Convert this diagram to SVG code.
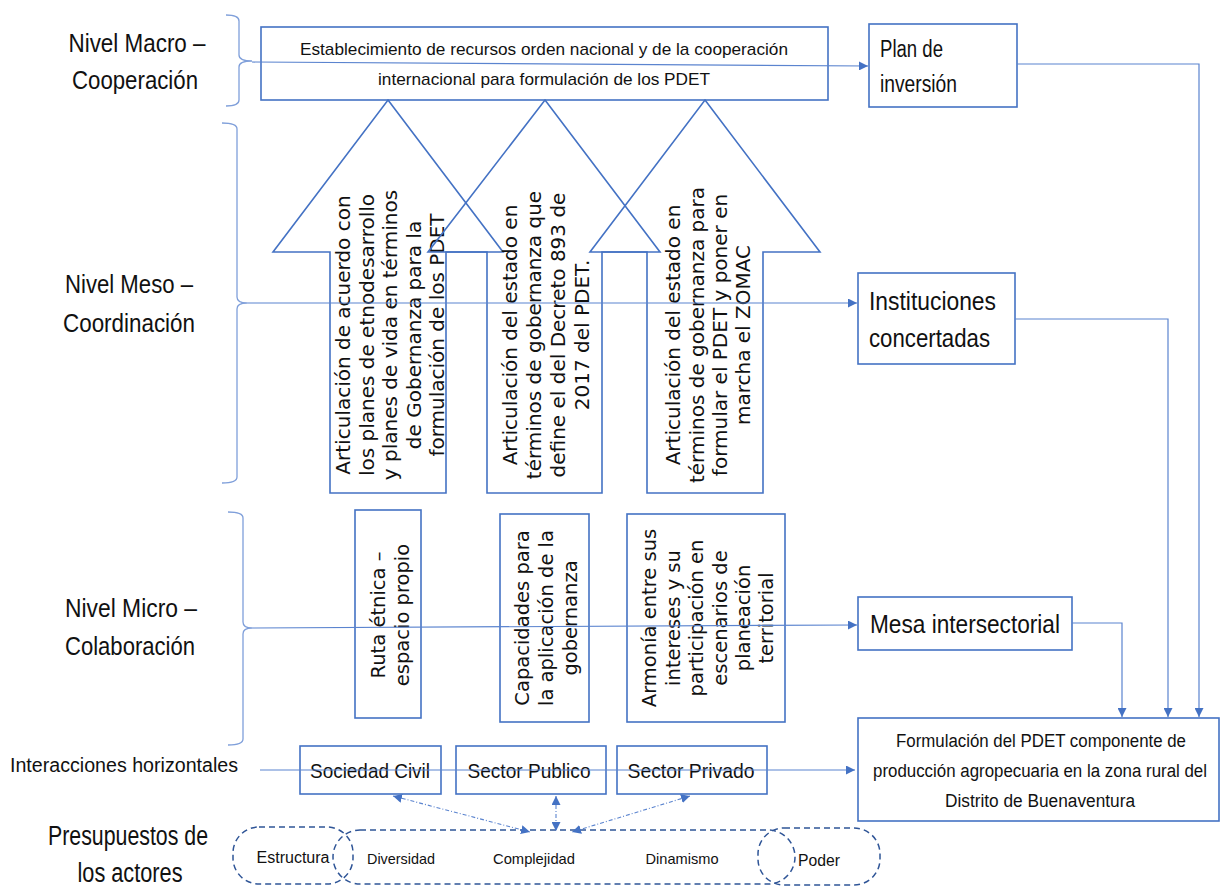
<svg xmlns="http://www.w3.org/2000/svg" width="1221" height="886" viewBox="0 0 1221 886">
<defs>
<style>
.box{fill:none;stroke:#4472C4;stroke-width:1.6}
.arr{fill:none;stroke:#4472C4;stroke-width:1.6;stroke-linejoin:miter}
.brace{fill:none;stroke:#7F9FDA;stroke-width:1.3}
.con{fill:none;stroke:#5B84CF;stroke-width:1.2}
.dd{fill:none;stroke:#5B84CF;stroke-width:1.1;stroke-dasharray:4 2 1 2}
.dash{fill:none;stroke:#2F5597;stroke-width:1.5;stroke-dasharray:6 4}
.t{font-family:"Liberation Sans",Arial,sans-serif;fill:#111}
.g{font-family:"DejaVu Sans","Liberation Sans",sans-serif;fill:#111;font-size:20px}
.gm{font-family:"DejaVu Sans","Liberation Sans",sans-serif;fill:#111;font-size:19.5px}
</style>
<marker id="ah" viewBox="0 0 10 10" refX="10" refY="5" markerWidth="9" markerHeight="9" markerUnits="userSpaceOnUse" orient="auto-start-reverse"><path d="M0,0 L10,5 L0,10 z" fill="#4472C4"/></marker>
</defs>

<g id="labels">
<text class="t" x="137" y="52" font-size="26" text-anchor="middle" textLength="137" lengthAdjust="spacingAndGlyphs">Nivel Macro –</text>
<text class="t" x="135" y="89" font-size="26" text-anchor="middle" textLength="126" lengthAdjust="spacingAndGlyphs">Cooperación</text>
<text class="t" x="129" y="293" font-size="26" text-anchor="middle" textLength="128" lengthAdjust="spacingAndGlyphs">Nivel Meso –</text>
<text class="t" x="129" y="332" font-size="26" text-anchor="middle" textLength="132" lengthAdjust="spacingAndGlyphs">Coordinación</text>
<text class="t" x="131" y="617" font-size="26" text-anchor="middle" textLength="132" lengthAdjust="spacingAndGlyphs">Nivel Micro –</text>
<text class="t" x="130" y="655" font-size="26" text-anchor="middle" textLength="130" lengthAdjust="spacingAndGlyphs">Colaboración</text>
<text class="t" x="10" y="772" font-size="20" textLength="228" lengthAdjust="spacingAndGlyphs">Interacciones horizontales</text>
<text class="t" x="128" y="845" font-size="27" text-anchor="middle" textLength="160" lengthAdjust="spacingAndGlyphs">Presupuestos de</text>
<text class="t" x="130" y="882" font-size="27" text-anchor="middle" textLength="105" lengthAdjust="spacingAndGlyphs">los actores</text>
</g>

<g id="braces">
<path class="brace" d="M226,15 Q239,15 239,21 L239,55 Q239,61 252,61 Q239,61 239,67 L239,100 Q239,106 226,106"/>
<path class="brace" d="M222,123 Q237,123 237,129 L237,297 Q237,303 247,303 Q237,303 237,309 L237,477 Q237,483 222,483"/>
<path class="brace" d="M228,512 Q243,512 243,518 L243,622 Q243,628 252,628 Q243,628 243,634 L243,739 Q243,745 228,745"/>
</g>

<g id="node-recursos">
<rect class="box" x="261" y="27" width="567" height="73"/>
<text class="t" x="544" y="55" font-size="17" text-anchor="middle" textLength="488" lengthAdjust="spacingAndGlyphs">Establecimiento de recursos orden nacional y de la cooperación</text>
<text class="t" x="544" y="85" font-size="17" text-anchor="middle" textLength="332" lengthAdjust="spacingAndGlyphs">internacional para formulación de los PDET</text>
</g>

<g id="node-plan">
<rect class="box" x="869" y="24" width="148" height="83"/>
<text class="t" x="880" y="57" font-size="23" textLength="63" lengthAdjust="spacingAndGlyphs">Plan de</text>
<text class="t" x="880" y="92" font-size="23" textLength="77" lengthAdjust="spacingAndGlyphs">inversión</text>
</g>

<g id="node-arrow1">
<polygon class="arr" points="388,100 503,252 446,252 446,493 330,493 330,252 273,252"/>
<g class="g" text-anchor="middle">
<text transform="translate(343,335) rotate(-90)" dy="0.36em">Articulación de acuerdo con</text>
<text transform="translate(367,335) rotate(-90)" dy="0.36em">los planes de etnodesarrollo</text>
<text transform="translate(390,335) rotate(-90)" dy="0.36em">y planes de vida en términos</text>
<text transform="translate(414,335) rotate(-90)" dy="0.36em">de Gobernanza  para la</text>
<text transform="translate(437,335) rotate(-90)" dy="0.36em">formulación de los PDET</text>
</g>
</g>

<g id="node-arrow2">
<polygon class="arr" points="545,100 660,252 602,252 602,493 487,493 487,252 428,252"/>
<g class="g" text-anchor="middle">
<text transform="translate(510,335) rotate(-90)" dy="0.36em">Articulación del estado en</text>
<text transform="translate(534,335) rotate(-90)" dy="0.36em">términos de gobernanza que</text>
<text transform="translate(558,335) rotate(-90)" dy="0.36em">define el del  Decreto 893 de</text>
<text transform="translate(582,335) rotate(-90)" dy="0.36em">2017 del PDET.</text>
</g>
</g>

<g id="node-arrow3">
<polygon class="arr" points="705,100 820,252 763,252 763,493 647,493 647,252 590,252"/>
<g class="g" text-anchor="middle">
<text transform="translate(673,335) rotate(-90)" dy="0.36em">Articulación del estado en</text>
<text transform="translate(697,335) rotate(-90)" dy="0.36em">términos de gobernanza para</text>
<text transform="translate(720,335) rotate(-90)" dy="0.36em">formular el PDET y poner en</text>
<text transform="translate(743,335) rotate(-90)" dy="0.36em">marcha el ZOMAC</text>
</g>
</g>

<g id="node-instituciones">
<rect class="box" x="858" y="273" width="157" height="91"/>
<text class="t" x="869" y="310" font-size="26" textLength="127" lengthAdjust="spacingAndGlyphs">Instituciones</text>
<text class="t" x="869" y="347" font-size="26" textLength="121" lengthAdjust="spacingAndGlyphs">concertadas</text>
</g>

<g id="node-ruta">
<rect class="box" x="355" y="510" width="66" height="208"/>
<g class="gm" text-anchor="middle">
<text transform="translate(378,615) rotate(-90)" dy="0.36em">Ruta étnica –</text>
<text transform="translate(402,615) rotate(-90)" dy="0.36em">espacio propio</text>
</g>
</g>

<g id="node-capacidades">
<rect class="box" x="500" y="514" width="89" height="208"/>
<g class="gm" text-anchor="middle">
<text transform="translate(522,618) rotate(-90)" dy="0.36em">Capacidades  para</text>
<text transform="translate(546,618) rotate(-90)" dy="0.36em">la aplicación de la</text>
<text transform="translate(570,618) rotate(-90)" dy="0.36em">gobernanza</text>
</g>
</g>

<g id="node-armonia">
<rect class="box" x="627" y="514" width="158" height="208"/>
<g class="gm" text-anchor="middle">
<text transform="translate(649,618) rotate(-90)" dy="0.36em">Armonía entre sus</text>
<text transform="translate(673,618) rotate(-90)" dy="0.36em">intereses y su</text>
<text transform="translate(696,618) rotate(-90)" dy="0.36em">participación en</text>
<text transform="translate(720,618) rotate(-90)" dy="0.36em">escenarios de</text>
<text transform="translate(743,618) rotate(-90)" dy="0.36em">planeación</text>
<text transform="translate(766,618) rotate(-90)" dy="0.36em">territorial</text>
</g>
</g>

<g id="node-mesa">
<rect class="box" x="858" y="597" width="214" height="53"/>
<text class="t" x="870" y="633" font-size="26" textLength="190" lengthAdjust="spacingAndGlyphs">Mesa intersectorial</text>
</g>

<g id="node-formulacion">
<rect class="box" x="858" y="718" width="361" height="103"/>
<text class="t" x="1041" y="747" font-size="18" text-anchor="middle" textLength="290" lengthAdjust="spacingAndGlyphs">Formulación del PDET componente de</text>
<text class="t" x="1040" y="777" font-size="18" text-anchor="middle" textLength="334" lengthAdjust="spacingAndGlyphs">producción agropecuaria en la zona rural del</text>
<text class="t" x="1040" y="807" font-size="18" text-anchor="middle" textLength="190" lengthAdjust="spacingAndGlyphs">Distrito de Buenaventura</text>
</g>

<g id="node-sociedad">
<rect class="box" x="300" y="746" width="141" height="48"/>
<text class="t" x="370" y="778" font-size="21" text-anchor="middle" textLength="120" lengthAdjust="spacingAndGlyphs">Sociedad Civil</text>
</g>
<g id="node-publico">
<rect class="box" x="456" y="746" width="150" height="48"/>
<text class="t" x="529" y="778" font-size="21" text-anchor="middle" textLength="123" lengthAdjust="spacingAndGlyphs">Sector Publico</text>
</g>
<g id="node-privado">
<rect class="box" x="617" y="746" width="150" height="48"/>
<text class="t" x="691" y="778" font-size="21" text-anchor="middle" textLength="127" lengthAdjust="spacingAndGlyphs">Sector Privado</text>
</g>

<g id="node-presupuestos">
<rect class="dash" x="233" y="827" width="120" height="57" rx="26"/>
<rect class="dash" x="333" y="830" width="462" height="54" rx="27"/>
<rect class="dash" x="758" y="828" width="122" height="57" rx="26"/>
<text class="t" x="293" y="863" font-size="16" text-anchor="middle" textLength="73" lengthAdjust="spacingAndGlyphs">Estructura</text>
<text class="t" x="401" y="864" font-size="15" text-anchor="middle" textLength="68" lengthAdjust="spacingAndGlyphs">Diversidad</text>
<text class="t" x="534" y="864" font-size="15" text-anchor="middle" textLength="82" lengthAdjust="spacingAndGlyphs">Complejidad</text>
<text class="t" x="682" y="864" font-size="15" text-anchor="middle" textLength="73" lengthAdjust="spacingAndGlyphs">Dinamismo</text>
<text class="t" x="819" y="866" font-size="17" text-anchor="middle" textLength="42" lengthAdjust="spacingAndGlyphs">Poder</text>
</g>

<g id="connectors">
<path class="con" d="M252,62 L868,66" marker-end="url(#ah)"/>
<path class="con" d="M247,303 L857,303" marker-end="url(#ah)"/>
<path class="con" d="M252,628 L857,625" marker-end="url(#ah)"/>
<path class="con" d="M260,770 L855,770" marker-end="url(#ah)"/>
<path class="con" d="M1017,64 L1199,64 L1199,717" marker-end="url(#ah)"/>
<path class="con" d="M1015,319 L1168,319 L1168,717" marker-end="url(#ah)"/>
<path class="con" d="M1072,623 L1122,623 L1122,717" marker-end="url(#ah)"/>
<path class="dd" d="M393,796 L530,832" marker-start="url(#ah)" marker-end="url(#ah)"/>
<path class="dd" d="M556,796 L556,831" marker-start="url(#ah)" marker-end="url(#ah)"/>
<path class="dd" d="M690,796 L572,832" marker-start="url(#ah)" marker-end="url(#ah)"/>
</g>
</svg>
